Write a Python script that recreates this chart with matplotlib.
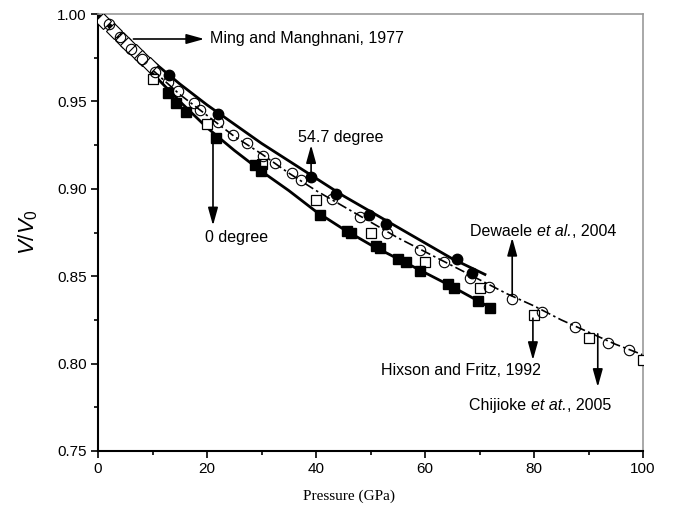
import matplotlib
matplotlib.use("Agg")
import matplotlib.pyplot as plt
from matplotlib.ticker import MultipleLocator

plt.rcParams['font.family'] = ['Liberation Sans', 'DejaVu Sans']
plt.rcParams['mathtext.fontset'] = 'custom'
plt.rcParams['mathtext.it'] = 'Liberation Sans:italic'
plt.rcParams['mathtext.rm'] = 'Liberation Sans'

# ---- data ----
# 54.7 degree (filled circles) and its fit line
p_547 = [13, 22, 39, 43.7, 49.7, 52.8, 65.9, 68.6]
v_547 = [0.965, 0.943, 0.907, 0.897, 0.885, 0.880, 0.860, 0.852]
p_547_fit = [0, 5, 10, 15, 20, 25, 30, 35, 40, 45, 50, 55, 60, 65, 71]
v_547_fit = [1.0, 0.986, 0.973, 0.960, 0.948, 0.937, 0.926, 0.916, 0.906,
             0.896, 0.887, 0.878, 0.869, 0.860, 0.851]

# 0 degree (filled squares) and its fit line
p_0 = [12.8, 14.3, 16.1, 21.6, 28.8, 29.9, 40.7, 45.7, 46.4, 51, 51.7,
       55, 56.5, 59.1, 64.2, 65.3, 69.7, 71.9]
v_0 = [0.955, 0.949, 0.944, 0.929, 0.9136, 0.910, 0.885, 0.876, 0.875,
       0.867, 0.866, 0.860, 0.858, 0.853, 0.8455, 0.843, 0.836, 0.832]
p_0_fit = [0, 5, 10, 15, 20, 25, 30, 35, 40, 45, 50, 55, 60, 65, 72]
v_0_fit = [1.0, 0.982, 0.966, 0.950, 0.935, 0.922, 0.910, 0.899, 0.887,
           0.877, 0.868, 0.860, 0.852, 0.844, 0.832]

# Dewaele et al., 2004 (open circles) and dash-dot curve
p_dew = [2, 4, 6, 8, 10.5, 12.8, 14.7, 17.6, 18.7, 22, 24.8, 27.3, 30.3, 32.5,
         35.6, 37.2, 42.9, 48.1, 53, 59.1, 63.5, 68.3, 71.7, 76, 81.5, 87.5,
         93.6, 97.4]
v_dew = [0.994, 0.987, 0.980, 0.974, 0.967, 0.961, 0.956, 0.949, 0.945, 0.938,
         0.931, 0.926, 0.919, 0.915, 0.909, 0.905, 0.894, 0.884, 0.875, 0.865,
         0.858, 0.849, 0.844, 0.837, 0.8295, 0.821, 0.812, 0.808]
p_dd = [0, 5, 10, 15, 20, 25, 30, 35, 40, 45, 50, 55, 60, 65, 70, 75, 80,
        85, 90, 95, 100]
v_dd = [1.0, 0.983, 0.968, 0.954, 0.942, 0.930, 0.920, 0.909, 0.899, 0.890,
        0.881, 0.872, 0.864, 0.856, 0.848, 0.840, 0.833, 0.825, 0.818, 0.811,
        0.805]

# Hixson and Fritz / Chijioke (open squares)
p_sq = [10, 20, 30, 40, 50, 60, 70, 80, 90, 100]
v_sq = [0.963, 0.937, 0.914, 0.8936, 0.875, 0.858, 0.843, 0.828, 0.8146, 0.802]

# Ming and Manghnani, 1977 (open diamonds)
p_ming = [1, 3, 4.5, 5.5, 7, 8, 9.5]
v_ming = [0.996, 0.990, 0.985, 0.982, 0.978, 0.975, 0.971]

x_ticks = [0, 20, 40, 60, 80, 100]
y_ticks = [0.75, 0.80, 0.85, 0.90, 0.95, 1.00]

fig = plt.figure(figsize=(6.75, 5.18), dpi=100)
ax = fig.add_axes([98/675, 1 - 451/518, 545/675, 437/518])

ax.plot(p_547_fit, v_547_fit, '-', color='k', lw=2.0, zorder=2)
ax.plot(p_0_fit, v_0_fit, '-', color='k', lw=2.0, zorder=2)
ax.plot(p_dd, v_dd, linestyle=(0, (6, 2, 1.5, 2)), color='k', lw=1.2, zorder=2)

ax.plot(p_ming, v_ming, 'D', ms=8, mfc='white', mec='k', mew=0.8, zorder=3)
ax.plot(p_sq, v_sq, 's', ms=7, mfc='white', mec='k', mew=0.9, zorder=3)
ax.plot(p_dew, v_dew, 'o', ms=7.5, mfc='none', mec='k', mew=0.8, zorder=4)
ax.plot(p_0, v_0, 's', ms=7, color='k', zorder=5)
ax.plot(p_547, v_547, 'o', ms=7.5, color='k', zorder=5)

ax.set_xlim(0, 100)
ax.set_ylim(0.75, 1.00)
ax.set_xticks(x_ticks)
ax.set_yticks(y_ticks)
ax.set_yticklabels([f"{v:.2f}" for v in y_ticks])
ax.xaxis.set_minor_locator(MultipleLocator(10))
ax.yaxis.set_minor_locator(MultipleLocator(0.025))
ax.tick_params(which='major', direction='out', length=5, width=1.2, labelsize=11, pad=3)
ax.tick_params(which='minor', direction='out', length=3, width=1.2)
ax.tick_params(top=False, right=False)
for s in ['left', 'bottom']:
    ax.spines[s].set_linewidth(1.5)
for s in ['top', 'right']:
    ax.spines[s].set_linewidth(1.2)
    ax.spines[s].set_color('#999999')

ax.set_xlabel('Pressure (GPa)', family='Liberation Serif', fontsize=11)
ax.xaxis.set_label_coords(0.46, -0.089)
ax.set_ylabel('$V/V_0$', fontsize=16)
ax.yaxis.set_label_coords(-0.106, 0.5)

ap = dict(arrowstyle='-|>,head_length=0.9,head_width=0.25', color='k', lw=1.2,
          shrinkA=0, shrinkB=0, mutation_scale=12)
fs = 11.5


def mixed_text(x, y, pieces):
    prev = ax.text(x, y, pieces[0][0], fontsize=fs, va='center', ha='left',
                   style=pieces[0][1])
    for s, st in pieces[1:]:
        prev = ax.annotate(s, xy=(1, 0.5), xycoords=prev, va='center', ha='left',
                           fontsize=fs, style=st)


ax.annotate('', xy=(19.5, 0.9857), xytext=(6.5, 0.9857), arrowprops=ap)
ax.text(20.6, 0.9857, 'Ming and Manghnani, 1977', fontsize=fs, va='center', ha='left')

ax.annotate('', xy=(39.1, 0.925), xytext=(39.1, 0.909), arrowprops=ap)
ax.text(36.7, 0.9296, '54.7 degree', fontsize=fs, va='center', ha='left')

ax.annotate('', xy=(21.1, 0.879), xytext=(21.1, 0.927), arrowprops=ap)
ax.text(25.5, 0.8724, '0 degree', fontsize=fs, va='center', ha='center')

ax.annotate('', xy=(76, 0.872), xytext=(76, 0.8387), arrowprops=ap)
mixed_text(68.3, 0.8753, [('Dewaele ', 'normal'), ('et al.', 'italic'), (', 2004', 'normal')])

ax.annotate('', xy=(79.8, 0.802), xytext=(79.8, 0.826), arrowprops=ap)
ax.text(81.3, 0.7963, 'Hixson and Fritz, 1992', fontsize=fs, va='center', ha='right')

ax.annotate('', xy=(91.7, 0.7866), xytext=(91.7, 0.817), arrowprops=ap)
mixed_text(68.1, 0.7763, [('Chijioke ', 'normal'), ('et at.', 'italic'), (', 2005', 'normal')])

fig.savefig('out.png', dpi=100)
